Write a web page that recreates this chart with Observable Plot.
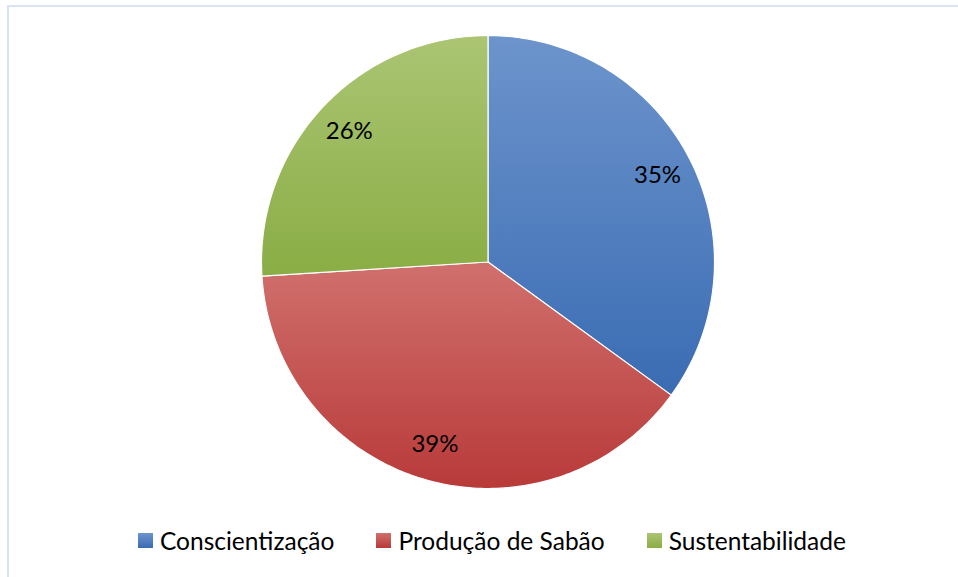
<!DOCTYPE html>
<html><head><meta charset="utf-8">
<script src="https://cdn.jsdelivr.net/npm/d3@7"></script>
<script src="https://cdn.jsdelivr.net/npm/@observablehq/plot@0.6"></script>
<style>
html,body{margin:0;padding:0;background:#fff;width:958px;height:577px;overflow:hidden;}
#wrap{position:relative;width:958px;height:577px;}
#frame{position:absolute;left:7px;top:5px;right:-10px;bottom:-10px;border-left:2px solid #dae3f3;border-top:2px solid #dae3f3;pointer-events:none;}
#chart svg{display:block;}
#legend .lg-swatches{font-family:Lato,sans-serif !important;font-size:24.5px !important;color:#000;margin:0 !important;min-height:40px !important;padding-left:138px;box-sizing:border-box;justify-content:flex-start;}
#legend .lg-swatch{margin-right:42px !important;}
#legend .lg-swatch > svg{margin-right:7px !important;}
</style></head>
<body><div id="wrap"><div id="chart"></div><div id="legend"></div><div id="frame"></div></div>
<script>
const categories = ["Conscientização", "Produção de Sabão", "Sustentabilidade"];
const values = [35, 39, 26];
const labels = ["35%", "39%", "26%"];
const gradTop = ["#6d94cc", "#d0706d", "#abc573"];
const gradBottom = ["#3a6cb3", "#b83a39", "#8aad45"];
const midColors = ["#5282c2", "#c45250", "#9bba5c"];
const gradIds = ["g-blue", "g-red", "g-green"];

const arcs = d3.pie().sort(null).value(d => d)(values);
const slices = arcs.map(a => {
  const n = Math.max(2, Math.ceil((a.endAngle - a.startAngle) / (Math.PI / 180)));
  const pts = [{x: 0, y: 0}];
  for (let k = 0; k <= n; k++) {
    const t = a.startAngle + (a.endAngle - a.startAngle) * k / n;
    pts.push({x: Math.sin(t), y: Math.cos(t)});
  }
  pts.push({x: 0, y: 0});
  return pts;
});
const labelR = 0.84;
const mid = a => (a.startAngle + a.endAngle) / 2;

const svg = Plot.plot({
  width: 958,
  height: 520,
  marginLeft: 261,
  marginRight: 244,
  marginTop: 35,
  marginBottom: 32,
  style: {background: "transparent"},
  x: {domain: [-1, 1], axis: null},
  y: {domain: [-1, 1], axis: null},
  marks: [
    ...slices.map((pts, i) => Plot.line(pts, {x: "x", y: "y", fill: `url(#${gradIds[i]})`, stroke: "white", strokeWidth: 1.2, strokeLinejoin: "round"})),
    Plot.text(arcs, {
      x: a => labelR * Math.sin(mid(a)),
      y: a => labelR * Math.cos(mid(a)),
      text: (a, i) => labels[i],
      fontSize: 24,
      fontFamily: "Lato, sans-serif",
      fill: "#000"
    })
  ]
});

const defs = d3.select(svg).insert("defs", ":first-child");
gradIds.forEach((id, i) => {
  const g = defs.append("linearGradient").attr("id", id).attr("x1", 0).attr("y1", 0).attr("x2", 0).attr("y2", 1);
  g.append("stop").attr("offset", "0%").attr("stop-color", gradTop[i]);
  g.append("stop").attr("offset", "100%").attr("stop-color", gradBottom[i]);
});
document.getElementById("chart").appendChild(svg);

const legend = Plot.legend({
  color: {type: "ordinal", domain: categories, range: midColors},
  legend: "swatches",
  swatchSize: 15,
  className: "lg"
});
d3.select(legend).selectAll(".lg-swatch svg").each(function(d, i) {
  d3.select(this).selectAll("rect").attr("fill", `url(#${gradIds[i]})`);
});
document.getElementById("legend").appendChild(legend);
</script>
</body></html>
